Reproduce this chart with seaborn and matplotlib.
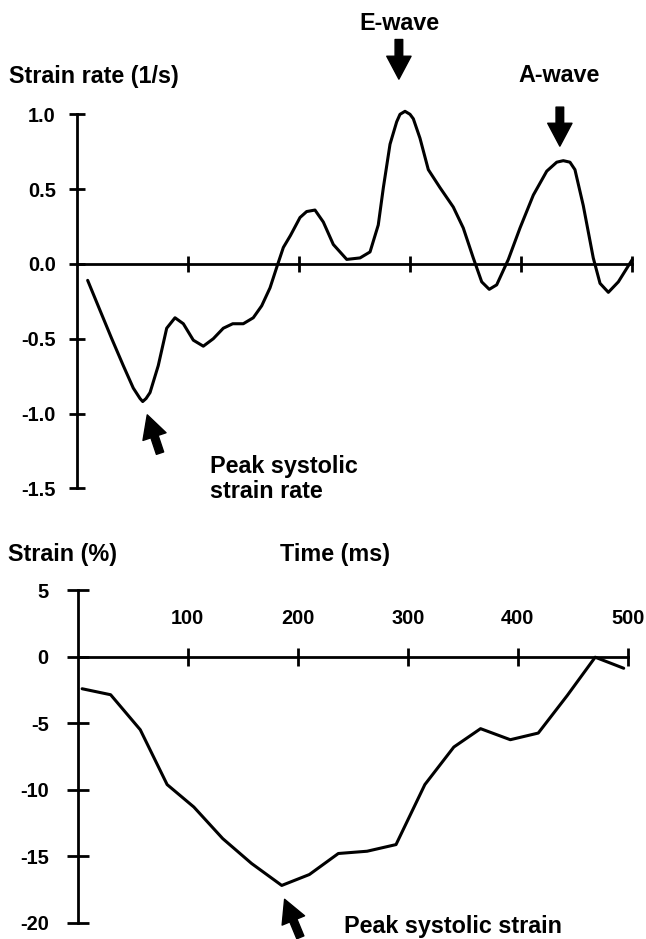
import numpy as np
import pandas as pd
import matplotlib
matplotlib.use("Agg")
import matplotlib.pyplot as plt
import seaborn as sns

# strain rate curve (top panel)
sr_time = [9.6, 20.7, 31.3, 41.7, 50.7, 56.8, 59.2, 62.2, 65.8, 73.2, 80.8, 88.3,
           95.8, 104.8, 113.8, 122.8, 131.8, 140.3, 149.8, 158.8, 166.4, 173.9,
           180.5, 185.9, 192.3, 200.9, 206.9, 214.4, 221.9, 230.9, 243.0, 255.0,
           264.0, 271.4, 276.0, 282.0, 288.0, 291.0, 295.5, 300.0, 303.0, 309.0,
           316.5, 327.0, 339.0, 348.0, 357.0, 364.6, 371.4, 378.1, 388.6, 399.1,
           411.1, 423.2, 432.2, 438.1, 444.1, 448.6, 456.1, 465.1, 471.2, 478.7,
           487.7, 500.3]
sr_value = [-0.11, -0.31, -0.50, -0.68, -0.83, -0.90, -0.92, -0.90, -0.86, -0.68,
            -0.43, -0.36, -0.40, -0.51, -0.55, -0.50, -0.43, -0.40, -0.40, -0.36,
            -0.28, -0.16, -0.01, 0.11, 0.19, 0.31, 0.35, 0.36, 0.28, 0.13, 0.03,
            0.04, 0.08, 0.26, 0.51, 0.80, 0.95, 1.00, 1.02, 1.00, 0.97, 0.84,
            0.63, 0.51, 0.38, 0.24, 0.04, -0.12, -0.17, -0.14, 0.03, 0.24, 0.46,
            0.62, 0.68, 0.69, 0.68, 0.63, 0.39, 0.04, -0.13, -0.19, -0.12, 0.03]

# strain curve (bottom panel)
st_time = [4.2, 30.1, 57.0, 81.4, 105.7, 131.9, 158.1, 185.5, 210.6, 236.9,
           263.0, 289.3, 315.5, 341.8, 366.1, 393.1, 418.5, 444.8, 470.2, 496.1]
st_value = [-2.42, -2.87, -5.50, -9.62, -11.31, -13.68, -15.55, -17.20, -16.38,
            -14.80, -14.63, -14.13, -9.62, -6.80, -5.42, -6.25, -5.75, -2.93,
            -0.05, -0.88]

time_ticks = [100, 200, 300, 400, 500]
time_labels = ["100", "200", "300", "400", "500"]
sr_ticks = [-1.5, -1.0, -0.5, 0.0, 0.5, 1.0]
sr_labels = ["-1.5", "-1.0", "-0.5", "0.0", "0.5", "1.0"]
st_ticks = [-20, -15, -10, -5, 0, 5]
st_labels = ["-20", "-15", "-10", "-5", "0", "5"]

sns.set_style("white")
plt.rcParams["font.family"] = ["Liberation Sans", "DejaVu Sans"]
plt.rcParams["font.weight"] = "bold"
plt.rcParams["axes.unicode_minus"] = False
plt.rcParams["text.color"] = "black"

W, H = 646, 939
fig = plt.figure(figsize=(W / 100, H / 100), dpi=100)

def fx(px):
    return px / W

def fy(py):
    return 1 - py / H

LW = 2.0
CURVE_LW = 2.2
TXT = 16.8
TICK = 14.4

def style_axis(ax, ylo, yhi, ylen, xlen, ypad):
    for s in ["top", "right"]:
        ax.spines[s].set_visible(False)
    ax.spines["bottom"].set_position(("data", 0))
    ax.spines["bottom"].set_bounds(0, 500)
    ax.spines["left"].set_bounds(ylo, yhi)
    for s in ["bottom", "left"]:
        ax.spines[s].set_linewidth(LW)
        ax.spines[s].set_color("black")
    ax.set_xlim(0, 500)
    ax.set_ylim(ylo, yhi)
    ax.tick_params(axis="y", left=True, direction="inout", length=ylen, width=LW,
                   labelsize=TICK, pad=ypad, colors="black")
    ax.tick_params(axis="x", bottom=True, direction="inout", length=xlen,
                   width=LW, colors="black")
    ax.set_xlabel("")
    ax.set_ylabel("")
    ax.patch.set_alpha(0)

# ---- top panel: strain rate
ax1 = fig.add_axes([fx(77), fy(488.3), fx(632 - 77), (488.3 - 114.3) / H])
sns.lineplot(x=sr_time, y=sr_value, ax=ax1, color="black", linewidth=CURVE_LW,
             estimator=None, sort=False)
for line in ax1.lines:
    line.set_clip_on(False)
    line.set_solid_joinstyle("round")
    line.set_solid_capstyle("round")
style_axis(ax1, -1.5, 1.0, 11.5, 11, 9.5)
ax1.set_yticks(sr_ticks, sr_labels)
ax1.set_xticks(time_ticks, [])

big_arrow = dict(width=5.5, headwidth=17.5, headlength=16.5, facecolor="black",
                 edgecolor="black", shrink=0)
ax1.annotate("", xy=(290, 1.235), xytext=(290, 1.50), arrowprops=big_arrow,
             annotation_clip=False)
ax1.annotate("", xy=(435, 0.787), xytext=(435, 1.048), arrowprops=big_arrow,
             annotation_clip=False)
ax1.annotate("", xy=(63.3, -1.009), xytext=(74.8, -1.265), arrowprops=big_arrow,
             annotation_clip=False)

fig.text(fx(399), fy(23), "E-wave", ha="center", va="center", fontsize=TXT,
         fontweight="bold")
fig.text(fx(559), fy(75), "A-wave", ha="center", va="center", fontsize=TXT,
         fontweight="bold")
fig.text(fx(9), fy(77), "Strain rate (1/s)", ha="left", va="center",
         fontsize=TXT, fontweight="bold")
fig.text(fx(210), fy(479), "Peak systolic\nstrain rate", ha="left",
         va="center", fontsize=TXT, fontweight="bold", linespacing=1.15)

# ---- bottom panel: strain
ax2 = fig.add_axes([fx(77.5), fy(922.7), fx(628 - 77.5), (922.7 - 590) / H])
sns.lineplot(x=st_time, y=st_value, ax=ax2, color="black", linewidth=CURVE_LW,
             estimator=None, sort=False)
for line in ax2.lines:
    line.set_clip_on(False)
    line.set_solid_joinstyle("round")
style_axis(ax2, -20, 5, 16.5, 13.5, 12.5)
ax2.set_yticks(st_ticks, st_labels)
ax2.spines["top"].set_position(("data", 0))
ax2.spines["top"].set_visible(False)
ax2.set_xticks(time_ticks, time_labels)
ax2.tick_params(axis="x", top=False, labeltop=True, labelbottom=False,
                labelsize=TICK, pad=14)

ax2.annotate("", xy=(188.1, -18.24), xytext=(202.4, -21.1), arrowprops=big_arrow,
             annotation_clip=False)

fig.text(fx(8), fy(555), "Strain (%)", ha="left", va="center", fontsize=TXT,
         fontweight="bold")
fig.text(fx(335), fy(555), "Time (ms)", ha="center", va="center", fontsize=TXT,
         fontweight="bold")
fig.text(fx(344), fy(927), "Peak systolic strain", ha="left", va="center",
         fontsize=TXT, fontweight="bold")

fig.savefig("out.png", dpi=100)
